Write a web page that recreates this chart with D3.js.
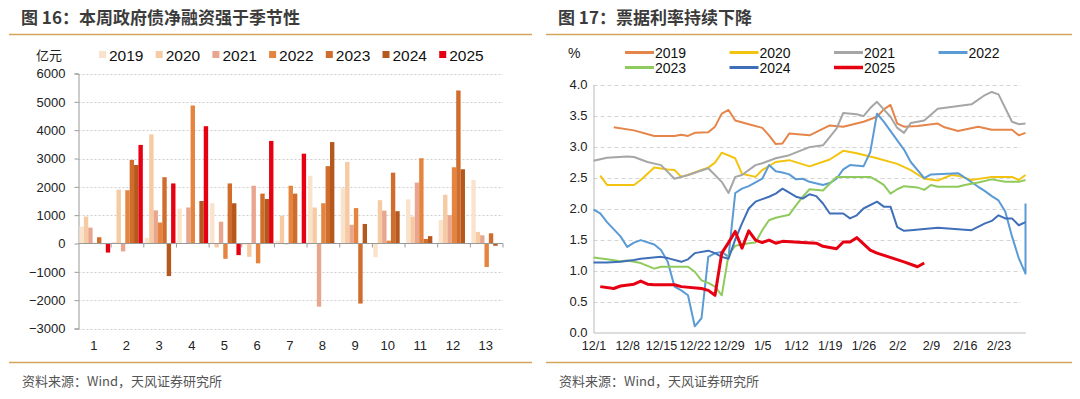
<!DOCTYPE html>
<html>
<head>
<meta charset="utf-8">
<script src="https://cdn.jsdelivr.net/npm/d3@7"></script>
<style>
  body { margin: 0; background: #fff; }
  svg { display: block; font-family: "Liberation Sans", Arial, "Noto Sans CJK SC", sans-serif; }
  .cn { font-family: "Noto Sans CJK SC", "Liberation Sans", sans-serif; }
</style>
</head>
<body>
<div class="chart"></div>
<script>
// ---- left chart data (亿元), week 1..13 ----
var weeks = ["1", "2", "3", "4", "5", "6", "7", "8", "9", "10", "11", "12", "13"];
var years = ["2019", "2020", "2021", "2022", "2023", "2024", "2025"];
var v2019 = [600, 50, 200, 1230, 1420, -50, 100, 2390, 1950, -480, 1560, 830, 2240];
var v2020 = [950, 1900, 3850, 0, -140, -470, 980, 1270, 2880, 1530, 950, 1720, 410];
var v2021 = [560, -280, 1170, 1270, 770, 2040, -30, -2230, 660, 1160, 2150, 1000, 290];
var v2022 = [20, 1880, 740, 4870, -540, -700, 2040, 1420, 1250, 100, 3010, 2690, -830];
var v2023 = [220, 2950, 2340, 0, 2120, 1760, 1760, 2730, -2120, 2500, 160, 5400, 360];
var v2024 = [-20, 2770, -1150, 1500, 1420, 1570, 0, 3580, 690, 1140, 260, 2620, -80];
var v2025 = [-320, 3480, 2120, 4140, -410, 3620, 3170, null, null, null, null, null, null];
var barColors = ["#f9e3cc", "#f6caa3", "#e9a68f", "#e4843f", "#d06c2c", "#b5581d", "#e50012"];
var leftTicks = [-3000, -2000, -1000, 0, 1000, 2000, 3000, 4000, 5000, 6000];

// ---- right chart data (%), [trading day index, value] ----
var dayLabels = ["12/1", "12/8", "12/15", "12/22", "12/29", "1/5", "1/12", "1/19", "1/26", "2/2", "2/9", "2/16", "2/23"];
var r2019 = [[3,3.31],[6,3.26],[9,3.17],[12,3.17],[13,3.19],[14,3.17],[15,3.22],[17,3.23],[18,3.32],[19,3.53],[20,3.59],[21,3.42],[23,3.36],[25,3.3],[26,3.18],[27,3.04],[28,3.05],[29,3.21],[32,3.18],[35,3.34],[37,3.32],[40,3.4],[42,3.48],[43,3.6],[44,3.67],[45,3.37],[46,3.32],[48,3.33],[51,3.37],[52,3.31],[54,3.25],[57,3.32],[59,3.27],[62,3.27],[63,3.18],[64,3.22]];
var r2020 = [[1,2.53],[2,2.38],[6,2.38],[7,2.46],[9,2.66],[11,2.63],[12,2.62],[13,2.51],[14,2.54],[16,2.62],[17,2.66],[18,2.74],[19,2.9],[21,2.81],[22,2.56],[24,2.51],[25,2.62],[27,2.75],[29,2.78],[32,2.68],[35,2.79],[37,2.93],[39,2.89],[42,2.81],[45,2.72],[47,2.62],[49,2.48],[51,2.45],[53,2.54],[54,2.53],[56,2.46],[59,2.51],[62,2.51],[63,2.46],[64,2.54]];
var r2021 = [[0,2.77],[2,2.82],[5,2.84],[6,2.83],[8,2.75],[10,2.7],[12,2.48],[14,2.54],[17,2.65],[19,2.43],[20,2.25],[21,2.51],[22,2.54],[24,2.7],[25,2.73],[27,2.81],[29,2.86],[32,2.99],[34,3.02],[36,3.29],[37,3.54],[39,3.52],[40,3.49],[41,3.62],[42,3.72],[43,3.6],[44,3.48],[45,3.3],[46,3.22],[47,3.38],[49,3.42],[51,3.61],[56,3.68],[58,3.83],[59,3.88],[60,3.84],[62,3.4],[63,3.36],[64,3.37]];
var r2022 = [[0,1.98],[1,1.92],[2,1.78],[4,1.55],[5,1.38],[6,1.45],[7,1.49],[9,1.42],[10,1.33],[11,1.14],[12,0.74],[13,0.68],[14,0.6],[15,0.1],[16,0.23],[17,1.22],[18,1.28],[19,1.3],[20,1.22],[21,2.25],[22,2.32],[23,2.36],[24,2.42],[25,2.48],[26,2.7],[27,2.6],[28,2.58],[29,2.55],[30,2.47],[31,2.48],[32,2.43],[34,2.38],[35,2.41],[36,2.48],[37,2.63],[38,2.7],[40,2.68],[41,2.91],[42,3.53],[43,3.4],[45,3.1],[46,2.95],[47,2.75],[49,2.49],[50,2.55],[54,2.57],[55,2.5],[57,2.35],[58,2.28],[59,2.2],[60,2.13],[61,1.95],[62,1.55],[63,1.2],[64,0.95],[64,2.08]];
var r2023 = [[0,1.21],[2,1.18],[4,1.15],[5,1.16],[7,1.12],[9,1.03],[10,1.06],[14,1.06],[15,0.98],[16,0.84],[17,0.8],[18,0.74],[19,0.6],[20,1.25],[21,1.4],[23,1.44],[24,1.45],[25,1.65],[26,1.81],[27,1.85],[29,1.9],[30,2.05],[31,2.19],[32,2.31],[34,2.29],[35,2.4],[36,2.51],[41,2.51],[42,2.45],[43,2.38],[44,2.24],[45,2.31],[46,2.36],[48,2.34],[49,2.3],[50,2.38],[51,2.35],[54,2.35],[55,2.38],[57,2.42],[59,2.47],[61,2.43],[63,2.43],[64,2.46]];
var r2024 = [[0,1.13],[2,1.13],[4,1.14],[6,1.17],[7,1.19],[10,1.22],[11,1.2],[13,1.14],[14,1.18],[15,1.28],[17,1.32],[18,1.28],[19,1.22],[20,1.19],[21,1.5],[22,1.76],[23,2.0],[24,2.11],[26,2.19],[27,2.24],[28,2.32],[30,2.19],[31,2.16],[32,2.23],[33,2.2],[34,2.08],[35,1.92],[37,1.92],[38,1.84],[39,1.89],[40,2.0],[42,2.11],[43,2.03],[44,2.03],[45,1.7],[46,1.64],[47,1.65],[51,1.69],[56,1.65],[58,1.76],[59,1.8],[60,1.89],[61,1.84],[62,1.84],[63,1.73],[64,1.78]];
var r2025 = [[1,0.74],[3,0.71],[4,0.75],[6,0.78],[7,0.83],[8,0.78],[9,0.77],[12,0.77],[13,0.74],[16,0.71],[17,0.68],[18,0.6],[19,1.28],[20,1.45],[21,1.63],[22,1.36],[23,1.64],[24,1.49],[25,1.45],[26,1.49],[27,1.44],[28,1.47],[31,1.45],[33,1.44],[34,1.39],[36,1.35],[37,1.46],[38,1.46],[39,1.53],[41,1.33],[42,1.28],[46,1.14],[48,1.06],[49,1.12]];
var lineColors = ["#e6854a", "#f2c40f", "#a6a6a6", "#5b9bd5", "#8fcb5c", "#3f6fb8", "#e60012"];
var rightTicks = [0, 0.5, 1, 1.5, 2, 2.5, 3, 3.5, 4];

var svg = d3.select(".chart").append("svg")
  .attr("width", 1080)
  .attr("height", 399);

var sepColor = "#d4a35c";

// titles, separators, source
function panelFrame(x0, x1, title) {
  svg.append("text").attr("class", "cn")
    .attr("x", x0 + 12).attr("y", 24)
    .attr("font-size", 17).attr("font-weight", "bold").attr("fill", "#3b3b3b")
    .text(title);
  svg.append("line").attr("x1", x0).attr("x2", x1).attr("y1", 34.5).attr("y2", 34.5)
    .attr("stroke", sepColor).attr("stroke-width", 1.5);
  svg.append("line").attr("x1", x0).attr("x2", x1).attr("y1", 362.5).attr("y2", 362.5)
    .attr("stroke", sepColor).attr("stroke-width", 1.5);
  svg.append("text").attr("class", "cn")
    .attr("x", x0 + 13).attr("y", 386)
    .attr("font-size", 13).attr("fill", "#555")
    .text("资料来源：Wind，天风证券研究所");
}
panelFrame(9, 532, "图 16：本周政府债净融资强于季节性");
panelFrame(546, 1072, "图 17：票据利率持续下降");

// ================= left chart =================
var series = [v2019, v2020, v2021, v2022, v2023, v2024, v2025];

var x0 = d3.scaleBand().domain(weeks).range([78.5, 503]).paddingInner(0.06).paddingOuter(0.03);
var x1 = d3.scaleBand().domain(years).range([0, x0.bandwidth()]);
var yL = d3.scaleLinear().domain([-3000, 6000]).range([328.5, 73.5]);

var left = svg.append("g");

// grid
left.selectAll(".gridL").data(leftTicks.filter(d => d !== 0)).enter()
  .append("line")
  .attr("x1", 78.5).attr("x2", 503)
  .attr("y1", d => Math.round(yL(d)) + 0.5).attr("y2", d => Math.round(yL(d)) + 0.5)
  .attr("stroke", "#cfcfcf").attr("stroke-dasharray", "2,2");

// y axis
var yAxisL = left.append("g")
  .attr("transform", "translate(78.5,0)")
  .call(d3.axisLeft(yL).tickValues(leftTicks).tickSize(4).tickPadding(9).tickFormat(d3.format("d")));
yAxisL.select(".domain").attr("stroke", "#999");
yAxisL.selectAll(".tick line").attr("stroke", "#999");
yAxisL.selectAll("text").attr("font-size", 13).attr("fill", "#222")
  .attr("font-family", "Liberation Sans, Arial, sans-serif");

// bars
years.forEach(function(yr, k) {
  left.append("g").selectAll("rect")
    .data(series[k].map((v, i) => ({ week: weeks[i], v: v })).filter(d => d.v !== null))
    .enter().append("rect")
    .attr("x", d => x0(d.week) + x1(yr))
    .attr("width", x1.bandwidth())
    .attr("y", d => yL(Math.max(0, d.v)))
    .attr("height", d => Math.abs(yL(d.v) - yL(0)))
    .attr("fill", barColors[k]);
});

// zero axis with ticks at band boundaries
left.append("line")
  .attr("x1", 78.5).attr("x2", 503).attr("y1", yL(0)).attr("y2", yL(0))
  .attr("stroke", "#999");
var step = (503 - 78.5) / weeks.length;
left.selectAll(".tk").data(d3.range(1, weeks.length + 1)).enter()
  .append("line")
  .attr("x1", i => 78.5 + i * step).attr("x2", i => 78.5 + i * step)
  .attr("y1", yL(0)).attr("y2", yL(0) + 4)
  .attr("stroke", "#999");

// week labels at the bottom
left.selectAll(".wk").data(weeks).enter()
  .append("text")
  .attr("x", d => x0(d) + x0.bandwidth() / 2 - 1)
  .attr("y", 350)
  .attr("text-anchor", "middle")
  .attr("font-size", 13).attr("fill", "#222")
  .text(d => d);

// legend
left.append("text").attr("class", "cn")
  .attr("x", 36).attr("y", 60).attr("font-size", 13).attr("fill", "#222").text("亿元");
var legL = left.selectAll(".legL").data(years).enter().append("g")
  .attr("transform", (d, i) => "translate(" + (99 + i * 56.7) + ",0)");
legL.append("rect").attr("x", 0).attr("y", 51).attr("width", 7).attr("height", 7)
  .attr("fill", (d, i) => barColors[i]);
legL.append("text").attr("x", 10).attr("y", 60.5)
  .attr("font-size", 15.5).attr("fill", "#111").text(d => d);

// ================= right chart =================
var xR = d3.scaleLinear().domain([0, 64]).range([593.5, 1025.5]);
var yR = d3.scaleLinear().domain([0, 4]).range([332.5, 84.5]);
var right = svg.append("g");

right.selectAll(".gridR").data(rightTicks.filter(d => d > 0)).enter()
  .append("line")
  .attr("x1", 593.5).attr("x2", 1021)
  .attr("y1", d => Math.round(yR(d)) + 0.5).attr("y2", d => Math.round(yR(d)) + 0.5)
  .attr("stroke", "#d4d4d4").attr("stroke-dasharray", "4,3");

var yAxisR = right.append("g")
  .attr("transform", "translate(593.5,0)")
  .call(d3.axisLeft(yR).tickValues(rightTicks).tickSize(0).tickPadding(6).tickFormat(d3.format(".1f")));
yAxisR.select(".domain").attr("stroke", "#bbb");
yAxisR.selectAll("text").attr("font-size", 13).attr("fill", "#222")
  .attr("font-family", "Liberation Sans, Arial, sans-serif");

var xAxisR = right.append("g")
  .attr("transform", "translate(0,332.5)")
  .call(d3.axisBottom(xR).tickValues(d3.range(0, 61, 5)).tickSize(0).tickPadding(9)
    .tickFormat((d, i) => dayLabels[i]));
xAxisR.select(".domain").attr("stroke", "#bbb");
xAxisR.selectAll("text").attr("font-size", 12.5).attr("fill", "#222")
  .attr("font-family", "Liberation Sans, Arial, sans-serif");

var rSeries = [r2019, r2020, r2021, r2022, r2023, r2024, r2025];
var line = d3.line().x(d => xR(d[0])).y(d => yR(d[1]));
rSeries.forEach(function(s, k) {
  right.append("path")
    .datum(s)
    .attr("d", line)
    .attr("fill", "none")
    .attr("stroke", lineColors[k])
    .attr("stroke-width", k === 6 ? 3 : 2)
    .attr("stroke-linejoin", "round");
});

// legend
right.append("text").attr("x", 568).attr("y", 58).attr("font-size", 14).attr("fill", "#222").text("%");
var legR = right.selectAll(".legR").data(years).enter().append("g")
  .attr("transform", (d, i) => "translate(" + (625 + (i % 4) * 104.5) + "," + (i < 4 ? 52.5 : 67.5) + ")");
legR.append("line").attr("x1", 0).attr("x2", 29).attr("y1", 0).attr("y2", 0)
  .attr("stroke", (d, i) => lineColors[i]).attr("stroke-width", (d, i) => i === 6 ? 3.5 : 3);
legR.append("text").attr("x", 30).attr("y", 5)
  .attr("font-size", 14).attr("fill", "#111").text(d => d);
</script>
</body>
</html>
